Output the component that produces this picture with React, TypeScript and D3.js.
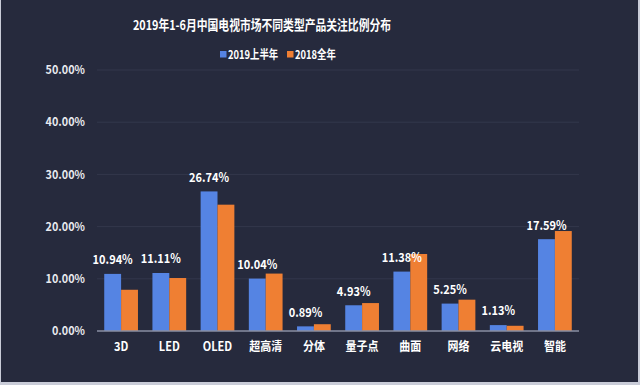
import React from "react";
import * as d3 from "d3";

const categories = ["3D", "LED", "OLED", "超高清", "分体", "量子点", "曲面", "网络", "云电视", "智能"];
const series2019 = [10.94, 11.11, 26.74, 10.04, 0.89, 4.93, 11.38, 5.25, 1.13, 17.59];
const series2018 = [7.9, 10.15, 24.2, 11.0, 1.3, 5.35, 14.75, 6.0, 1.0, 19.15];
const yTicks = [0, 10, 20, 30, 40, 50];
const seriesNames = ["2019上半年", "2018全年"];
const colors = ["#5584e3", "#ef7f33"];

const W = 640, H = 385;
const m = { left: 97, right: 61, top: 70, bottom: 54 };

type TProps = {
  x: number; y: number; sx?: number; anchor?: "start" | "middle" | "end";
  size: number; fill?: string; children: React.ReactNode;
};
function T({ x, y, sx = 0.85, anchor = "start", size, fill = "#ffffff", children }: TProps) {
  return (
    <text transform={`translate(${x},${y}) scale(${sx},1)`} textAnchor={anchor} dy="0.35em"
      fontSize={size} fontWeight="bold" fill={fill}>
      {children}
    </text>
  );
}

export default function App() {
  const x = d3.scaleBand<string>().domain(categories).range([m.left, W - m.right]).paddingInner(0.3).paddingOuter(0.15);
  const y = d3.scaleLinear().domain([0, 50]).range([H - m.bottom, m.top]);
  const bw = x.bandwidth() / 2;
  const font = "'Noto Sans CJK SC', 'Noto Sans', sans-serif";
  return (
    <svg width={W} height={H} style={{ position: "absolute", left: 0, top: 0, fontFamily: font }}>
      <rect x={0} y={0} width={W} height={H} fill="#c9ccd8" />
      <rect x={1} y={0} width={W - 3} height={H - 3} fill="#262a3d" />
      <T x={262} y={25} anchor="middle" size={13.5} sx={0.8}>
        2019年1-6月中国电视市场不同类型产品关注比例分布
      </T>
      <rect x={220} y={51} width={6.5} height={6.5} fill={colors[0]} />
      <T x={228} y={54.5} size={12} sx={0.78}>{seriesNames[0]}</T>
      <rect x={287} y={51} width={6.5} height={6.5} fill={colors[1]} />
      <T x={295} y={54.5} size={12} sx={0.78}>{seriesNames[1]}</T>
      {yTicks.map((t) => (
        <g key={t}>
          {t > 0 && (
            <line x1={m.left} x2={W - m.right} y1={y(t)} y2={y(t)} stroke="#33374c" strokeWidth={1} />
          )}
          <T x={85} y={y(t)} anchor="end" size={12} sx={0.9} fill="#e8e9ee">
            {t.toFixed(2)}%
          </T>
        </g>
      ))}
      {categories.map((c, i) => {
        const x0 = x(c)!;
        return (
          <g key={c}>
            <rect x={x0} y={y(series2019[i])} width={bw} height={y(0) - y(series2019[i])} fill={colors[0]} />
            <rect x={x0 + bw} y={y(series2018[i])} width={bw} height={y(0) - y(series2018[i])} fill={colors[1]} />
            <T x={x0 + bw / 2} y={y(series2019[i]) - 14} anchor="middle" size={12.5} sx={0.88}>
              {series2019[i].toFixed(2)}%
            </T>
            <T x={x0 + bw} y={347} anchor="middle" size={12.5} sx={0.88}>
              {c}
            </T>
          </g>
        );
      })}
      <line x1={m.left} x2={W - m.right} y1={y(0)} y2={y(0)} stroke="#8a8fa3" strokeWidth={1.5} />
    </svg>
  );
}
